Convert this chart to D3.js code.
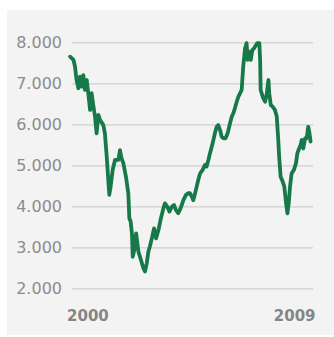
<!DOCTYPE html>
<html><head><meta charset="utf-8">
<script src="https://cdn.jsdelivr.net/npm/d3@7"></script>
<style>html,body{margin:0;padding:0;background:#fff;}svg{display:block;}</style>
</head><body>
<svg id="c" width="334" height="337"></svg>
<script>
const years = [2000.31,2000.44,2000.50,2000.56,2000.63,2000.69,2000.76,2000.82,2000.88,2000.95,
2001.01,2001.08,2001.14,2001.21,2001.27,2001.33,2001.40,2001.46,2001.59,2001.65,2001.72,2001.78,2001.82,2001.87,2001.95,
2002.04,2002.17,2002.23,2002.29,2002.36,2002.46,2002.55,2002.59,2002.64,2002.69,2002.72,2002.78,2002.85,2002.90,2002.94,
2003.00,2003.13,2003.19,2003.26,2003.32,2003.38,2003.47,2003.54,2003.62,2003.71,2003.79,2003.90,2003.96,
2004.05,2004.13,2004.22,2004.31,2004.38,2004.47,2004.56,2004.67,2004.77,2004.86,2004.92,2004.99,
2005.05,2005.12,2005.18,2005.24,2005.31,2005.41,2005.50,2005.56,2005.63,2005.69,2005.78,2005.88,2005.95,
2006.01,2006.08,2006.14,2006.21,2006.29,2006.37,2006.46,2006.53,2006.59,2006.65,2006.72,2006.78,2006.85,2006.91,2006.97,
2007.04,2007.10,2007.14,2007.21,2007.26,2007.32,2007.38,2007.46,2007.51,2007.59,2007.62,2007.64,2007.72,2007.81,2007.87,2007.94,2007.97,
2008.03,2008.10,2008.19,2008.26,2008.31,2008.36,2008.41,2008.49,2008.55,2008.62,2008.67,2008.72,2008.77,2008.83,2008.92,
2009.00,2009.05,2009.12,2009.18,2009.22,2009.28,2009.35,2009.41,2009.47,2009.51,2009.56];
const values = [7650,7570,7410,7080,6880,7160,6920,7200,6840,7080,
6760,6350,6760,6430,6190,5780,6230,6110,5980,5780,5210,4640,4280,4480,4890,
5130,5130,5370,5170,5050,4720,4320,3710,3630,3340,2770,2930,3340,3100,2890,
2770,2490,2410,2610,2890,3020,3260,3460,3220,3420,3670,3950,4070,
3990,3870,3990,4030,3910,3830,3950,4150,4280,4320,4320,4240,
4150,4320,4480,4640,4800,4890,5010,4970,5130,5290,5500,5780,5940,
5980,5860,5700,5660,5660,5780,6020,6190,6270,6390,6550,6670,6760,6840,7410,
7850,7980,7570,7770,7570,7810,7850,7930,7980,7980,7570,6840,6670,6550,6720,7080,6760,
6470,6430,6350,6190,5700,5130,4720,4600,4480,4070,3830,4070,4480,4800,4890,
5050,5290,5410,5500,5620,5410,5660,5660,5940,5820,5580];
const yTicks = [2000,3000,4000,5000,6000,7000,8000];
const xLabels = ["2000","2009"];

const svg = d3.select("#c");
svg.append("rect").attr("x",7).attr("y",10).attr("width",327).attr("height",325).attr("fill","#f3f3f3");

const x = d3.scaleLinear().domain([2000,2009]).range([62,296]);
const y = d3.scaleLinear().domain([2000,8000]).range([288.3,42.3]);
const loc = d3.formatLocale({decimal:",",thousands:".",grouping:[3],currency:["",""]});
const fmt = loc.format(",");

const yAxis = d3.axisLeft(y).tickValues(yTicks).tickFormat(fmt).tickSize(-241).tickPadding(10);
const gy = svg.append("g").attr("transform","translate(72,0)").call(yAxis);
gy.select(".domain").remove();
gy.selectAll(".tick line").attr("stroke","#cfcfcf").attr("stroke-width",1.3);
gy.selectAll(".tick text").attr("x",-10).attr("fill","#8c8c8c")
  .style("font-family","DejaVu Sans, sans-serif").style("font-size","16px");

const pts = years.map((t,i)=>[t,values[i]]);
svg.append("path").datum(pts)
  .attr("d", d3.line().x(d=>x(d[0])).y(d=>y(d[1])))
  .attr("fill","none").attr("stroke","#17794a").attr("stroke-width",3.8)
  .attr("stroke-linejoin","round").attr("stroke-linecap","round");

const gx = svg.append("g");
gx.selectAll("text").data(xLabels).join("text")
  .attr("x",(d,i)=> i===0 ? x(years[0])-3 : x(years[years.length-1])+5)
  .attr("y",316).attr("dy","0.35em")
  .attr("text-anchor",(d,i)=> i===0 ? "start" : "end")
  .attr("fill","#858585").attr("font-weight","bold")
  .style("font-family","DejaVu Sans, sans-serif").style("font-size","15px")
  .text(d=>d);
</script>
</body></html>
